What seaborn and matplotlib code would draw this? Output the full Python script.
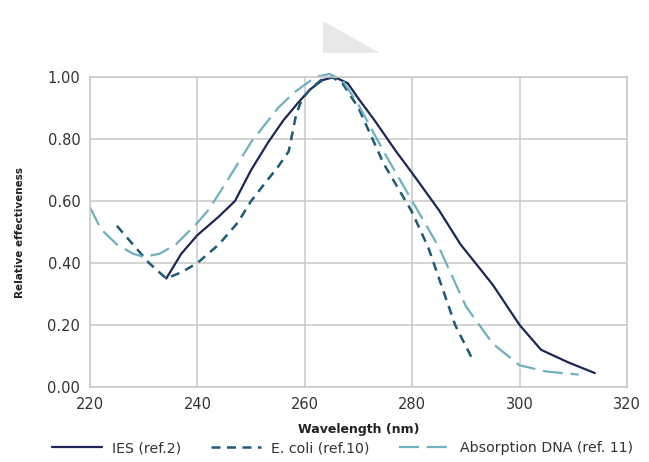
import numpy as np
import pandas as pd
import matplotlib.pyplot as plt
import seaborn as sns
from matplotlib.patches import Polygon

sns.set_theme(style='whitegrid')
plt.rcParams['font.family'] = ['DejaVu Sans']

# IES (ref.2)
ies_x = [234.2, 237, 240, 244, 247, 250, 253.2, 256, 258.9, 261, 263.3, 265.5, 268, 270, 273, 277, 280, 285, 289, 295, 300, 304, 309, 314]
ies_y = [0.35, 0.43, 0.49, 0.55, 0.60, 0.70, 0.79, 0.86, 0.92, 0.96, 0.99, 1.00, 0.98, 0.93, 0.86, 0.76, 0.69, 0.57, 0.46, 0.33, 0.20, 0.12, 0.08, 0.045]

# E. coli (ref.10)
ecoli_x = [225, 228, 231, 234.2, 237, 240, 244, 247.5, 250, 252.7, 255, 257, 258.4, 259.5, 261, 263, 265, 267, 270, 274.7, 279.8, 283, 288, 291.2]
ecoli_y = [0.52, 0.46, 0.40, 0.35, 0.37, 0.40, 0.46, 0.53, 0.60, 0.66, 0.71, 0.76, 0.88, 0.93, 0.96, 0.99, 1.00, 0.98, 0.90, 0.72, 0.57, 0.45, 0.20, 0.09]

# Absorption DNA (ref. 11)
dna_x = [220, 222, 225, 228, 230, 233, 236, 240, 242, 245, 250, 255, 258, 262, 264.6, 267, 270, 275, 280, 285, 290, 295, 300, 305, 311]
dna_y = [0.58, 0.51, 0.46, 0.43, 0.42, 0.43, 0.46, 0.53, 0.57, 0.65, 0.79, 0.90, 0.95, 1.00, 1.01, 0.99, 0.91, 0.75, 0.60, 0.45, 0.26, 0.14, 0.07, 0.05, 0.04]

xticks = [220, 240, 260, 280, 300, 320]
yticks = [0.0, 0.2, 0.4, 0.6, 0.8, 1.0]

fig = plt.figure(figsize=(6.49, 4.62), dpi=100)
ax = fig.add_axes([90 / 649, 0.1623, 537 / 649, 0.671])

sns.lineplot(x=ies_x, y=ies_y, ax=ax, color='#1d2657', lw=1.6, sort=False, label='IES (ref.2)')
sns.lineplot(x=ecoli_x, y=ecoli_y, ax=ax, color='#1e5a75', lw=1.8, sort=False, label='E. coli (ref.10)')
sns.lineplot(x=dna_x, y=dna_y, ax=ax, color='#6fb0bf', lw=1.6, sort=False, label='Absorption DNA (ref. 11)')
ax.lines[1].set_dashes([3.6, 2.6])
ax.lines[2].set_dashes([9, 3.5])
for ln in ax.lines:
    ln.set_clip_on(False)

ax.set_xlim(220, 320)
ax.set_ylim(0, 1.0)
ax.set_xticks(xticks)
ax.set_yticks(yticks)
ax.set_xticklabels([str(t) for t in xticks], fontsize=10.5, color='#333333')
ax.set_yticklabels([f'{t:.2f}' for t in yticks], fontsize=10.5, color='#333333')
ax.grid(True, color='#c9c9c9', lw=1.1)
for s in ax.spines.values():
    s.set_color('#c9c9c9')
    s.set_linewidth(1.1)
ax.tick_params(length=0, pad=7)
ax.set_xlabel('Wavelength (nm)', fontsize=9, fontweight='bold', color='#222222', labelpad=8)
ax.set_ylabel('Relative effectiveness', fontsize=7.5, fontweight='bold', color='#222222', labelpad=16)

handles, labels = ax.get_legend_handles_labels()
ax.get_legend().remove()
leg = fig.legend(handles, labels, loc='center left', bbox_to_anchor=(52 / 649, 0.030), ncol=3,
                 frameon=False, fontsize=10.2, handlelength=3.5, handletextpad=0.75,
                 columnspacing=2.1, borderpad=0, borderaxespad=0)
for t in leg.get_texts():
    t.set_color('#333333')

# faint watermark triangle at the top
fig.patches.append(Polygon([[0.497, 0.955], [0.497, 0.885], [0.585, 0.885]], closed=True,
                           transform=fig.transFigure, facecolor='#e8e8ea', edgecolor='none'))

fig.savefig('out.png', dpi=100, facecolor='white')
